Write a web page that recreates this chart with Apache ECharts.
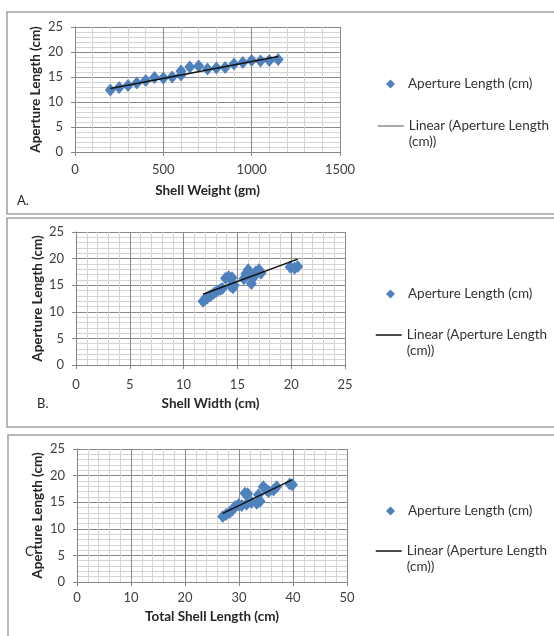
<!DOCTYPE html>
<html>
<head>
<meta charset="utf-8">
<script src="https://cdn.jsdelivr.net/npm/echarts@6/dist/echarts.min.js"></script>
<style>
  html, body { margin: 0; padding: 0; background: #fff; }
  #chart { width: 554px; height: 636px; }
</style>
</head>
<body>
<div id="chart"></div>
<script>
// panel A: shell weight (gm) vs aperture length (cm)
const weightA = [200, 250, 300, 350, 400, 450, 500, 550, 600, 600, 650, 700, 750, 800, 850, 900, 950, 1000, 1050, 1100, 1150];
const apertureA = [12.4, 12.9, 13.3, 13.8, 14.3, 14.9, 14.8, 15.0, 16.2, 15.4, 17.0, 17.2, 16.6, 16.8, 16.9, 17.6, 17.9, 18.3, 18.2, 18.3, 18.5];
const trendA = [[200, 12.7], [1150, 19.1]];

// panel B: shell width (cm) vs aperture length (cm)
const widthB = [11.8, 12.0, 12.2, 12.5, 12.8, 13.1, 13.4, 13.6, 13.9, 14.2, 14.5, 14.4, 14.7, 14.6, 15.6, 15.8, 16.0, 16.2, 16.3, 16.5, 16.7, 17.0, 17.2, 19.9, 20.3, 20.6];
const apertureB = [12.0, 12.3, 12.6, 13.0, 13.5, 13.9, 14.2, 14.4, 16.3, 16.6, 16.4, 14.8, 15.0, 14.5, 16.2, 17.2, 17.9, 17.0, 15.3, 16.5, 17.5, 17.9, 17.3, 18.4, 18.2, 18.5];
const trendB = [[11.8, 13.3], [20.6, 19.9]];

// panel C: total shell length (cm) vs aperture length (cm)
const lengthC = [27.0, 27.6, 28.3, 28.8, 29.3, 29.9, 30.5, 31.1, 31.6, 31.4, 32.3, 33.3, 33.9, 33.6, 34.5, 35.1, 35.5, 36.4, 37.0, 39.4, 39.9];
const apertureC = [12.3, 12.7, 13.1, 13.6, 14.2, 14.5, 14.4, 16.7, 16.6, 14.6, 15.0, 14.8, 15.2, 16.4, 17.9, 17.3, 17.0, 17.3, 17.9, 18.4, 18.3];
const trendC = [[27.0, 12.9], [39.8, 19.2]];

const xTitles = ["Shell Weight (gm)", "Shell Width (cm)", "Total Shell Length (cm)"];
const yTitle = "Aperture Length (cm)";
const xMax = [1500, 25, 50];
const xStep = [500, 5, 10];
const panelLabels = ["A.", "B.", "C"];

const pointName = "Aperture Length (cm)";
const lineName = "Linear (Aperture Length (cm))";
const font = 'Lato, "Open Sans", sans-serif';
const blue = "#4f81bd";

const grids = [
  { left: 75, top: 27, width: 265, height: 125 },
  { left: 76, top: 232, width: 269, height: 133 },
  { left: 77, top: 449, width: 270, height: 133 }
];
const xNameGap = [32, 32, 28];
const xLabelMargin = [11, 13, 9];
const yNameGap = [32, 30, 32];

const zip = (xs, ys) => xs.map((x, i) => [x, ys[i]]);
const points = [zip(weightA, apertureA), zip(widthB, apertureB), zip(lengthC, apertureC)];
const trends = [trendA, trendB, trendC];

const axisLine = { show: true, lineStyle: { color: "#868686" } };
const axisTick = { show: true, length: 4, lineStyle: { color: "#868686" } };
const labelStyle = { fontFamily: font, fontSize: 13, color: "#404040", formatter: (v) => String(v) };
const nameStyle = { fontFamily: font, fontSize: 13.5, fontWeight: "bold", color: "#262626" };

const xAxis = grids.map((g, i) => ({
  type: "value", gridIndex: i, min: 0, max: xMax[i], interval: xStep[i],
  name: xTitles[i], nameLocation: "middle", nameGap: xNameGap[i], nameTextStyle: nameStyle,
  axisLine, axisTick,
  axisLabel: { ...labelStyle, margin: xLabelMargin[i] },
  splitLine: { show: true, lineStyle: { color: "#8a8a8a" } },
  minorTick: { show: false, splitNumber: 5 },
  minorSplitLine: { show: true, lineStyle: { color: "#d4d4d4" } }
}));

const yAxis = grids.map((g, i) => ({
  type: "value", gridIndex: i, min: 0, max: 25, interval: 5,
  name: yTitle, nameLocation: "middle", nameGap: yNameGap[i], nameTextStyle: nameStyle,
  axisLine, axisTick,
  axisLabel: { ...labelStyle, margin: 12 },
  splitLine: { show: true, lineStyle: { color: "#8a8a8a" } },
  minorTick: { show: false, splitNumber: 5 },
  minorSplitLine: { show: true, lineStyle: { color: "#d4d4d4" } }
}));

const series = [];
grids.forEach((g, i) => {
  series.push({
    name: pointName, type: "scatter", xAxisIndex: i, yAxisIndex: i,
    symbol: "diamond", symbolSize: [11, 13],
    itemStyle: { color: blue, opacity: 1 },
    data: points[i]
  });
  series.push({
    name: lineName, type: "line", xAxisIndex: i, yAxisIndex: i,
    symbol: "none", showSymbol: false, z: 5,
    lineStyle: { color: "#111", width: 1.5 },
    data: trends[i]
  });
});

// legend centre rows: [marker row, line row] per panel
const legendRows = [[85, 126], [295, 335], [512, 551]];
const legendText = { fontFamily: font, fontSize: 13.5, color: "#333" };
const legend = [];
legendRows.forEach((r, i) => {
  legend.push({
    left: 386, top: r[0] - 8, padding: 0, itemWidth: 9, itemHeight: 9,
    data: [{ name: pointName, icon: "diamond" }],
    itemStyle: { color: blue },
    textStyle: { ...legendText, padding: [0, 0, 0, 8] }
  });
  legend.push({
    left: i === 0 ? 377 : 375, top: r[1] - 24, padding: 0, itemWidth: 26, itemHeight: 14,
    data: [{ name: lineName }],
    itemStyle: { color: "rgba(0,0,0,0)", opacity: 0, borderWidth: 0 },
    lineStyle: { color: i === 0 ? "#8c8c8c" : "#111", width: 1.5 },
    formatter: () => " \nLinear (Aperture Length\n(cm))",
    textStyle: { ...legendText, lineHeight: 16 }
  });
});

// panel frames
const frames = [
  { x: 7, y: 12, h: 202 },
  { x: 7, y: 218, h: 209 },
  { x: 8, y: 435, h: 215 }
];
const labelPos = [[17, 202], [37, 405], [25, 553]];

const graphic = frames.map((f) => ({
  type: "rect", silent: true, z: -10,
  shape: { x: f.x, y: f.y, width: 600, height: f.h },
  style: { fill: "#fff", stroke: "#a0a0a0", lineWidth: 1.5 }
})).concat(panelLabels.map((t, i) => ({
  type: "text", left: labelPos[i][0], top: labelPos[i][1] - 8, z: 10,
  style: { text: t, fontFamily: font, fontSize: 13, fill: "#262626" }
})));

const chart = echarts.init(document.getElementById("chart"));
chart.setOption({
  animation: false,
  backgroundColor: "#fff",
  grid: grids,
  xAxis, yAxis, series, legend, graphic
});
</script>
</body>
</html>
